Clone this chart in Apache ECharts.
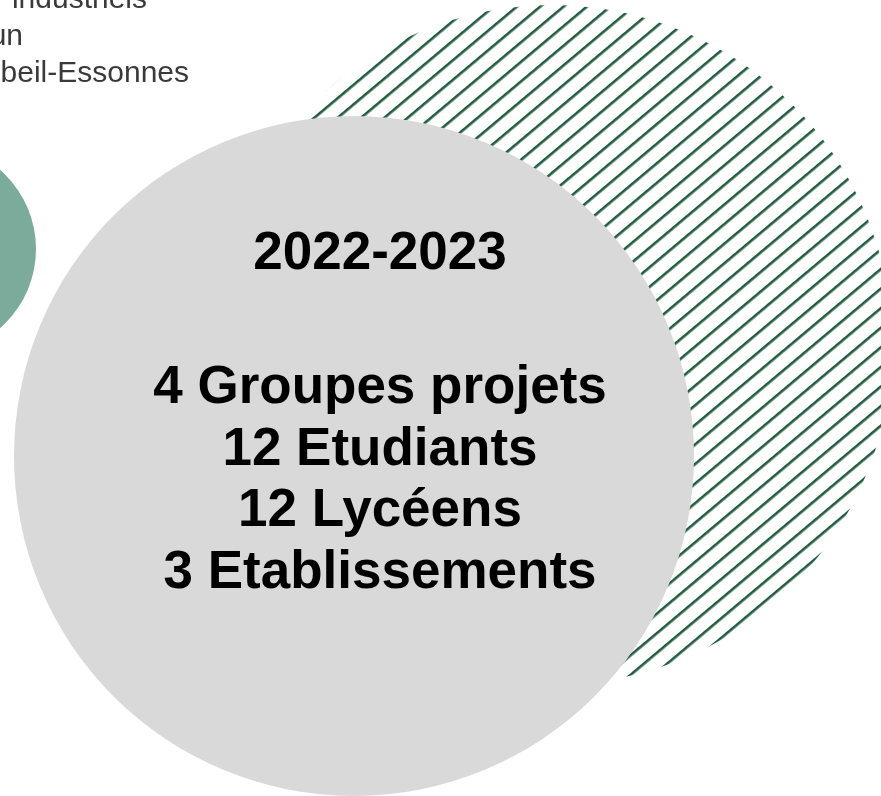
<!DOCTYPE html>
<html>
<head>
<meta charset="utf-8">
<script src="https://cdn.jsdelivr.net/npm/echarts@6/dist/echarts.min.js"></script>
<style>
html,body{margin:0;padding:0;background:#fff;}
#main{width:881px;height:796px;}
</style>
</head>
<body>
<div id="main"></div>
<script>
// ---- content ----
const periodLabel = ['2022-2023'];
const statLines = ['4 Groupes projets', '12 Etudiants', '12 Lycéens', '3 Etablissements'];
const cornerLines = ['industriels', 'un', 'beil-Essonnes'];
const cornerLineEnds = [147, 23, 189];

// hatch tile (horizontal line, rotated via pattern transform)
function makeHatchTile() {
  const c = document.createElement('canvas');
  c.width = 16; c.height = 15;
  const ctx = c.getContext('2d');
  ctx.fillStyle = '#1f5c3e';
  ctx.fillRect(0, 6, 16, 2.6);
  return c;
}

const chart = echarts.init(document.getElementById('main'), null, {renderer: 'canvas'});
const graphics = [];

// hatched circle (back)
graphics.push({
  type: 'circle', z: 1,
  shape: {cx: 552, cy: 345, r: 340},
  style: {fill: {image: makeHatchTile(), repeat: 'repeat', rotation: -40 * Math.PI / 180}}
});
// green circle (left)
graphics.push({
  type: 'circle', z: 2,
  shape: {cx: -69, cy: 249, r: 105},
  style: {fill: '#7aab9b'}
});
// gray circle
graphics.push({
  type: 'circle', z: 3,
  shape: {cx: 354, cy: 456, r: 340},
  style: {fill: '#d9d9d9'}
});

// corner text
const cornerBaselines = [6, 43, 80];
cornerLines.forEach((t, i) => {
  graphics.push({
    type: 'text', z: 5,
    x: cornerLineEnds[i], y: cornerBaselines[i] - 6,
    style: {text: t, x: 0, y: 0, align: 'right', verticalAlign: 'middle',
      font: '30px "Liberation Sans", Arial, sans-serif', fill: '#3a3a3a'}
  });
});

// central text
const bigFont = 'bold 53px "Liberation Sans", Arial, sans-serif';
graphics.push({
  type: 'text', z: 6, x: 380, y: 254,
  style: {text: periodLabel[0], x: 0, y: 0, align: 'center', verticalAlign: 'middle', font: bigFont, fill: '#000'}
});
const statCenters = [388, 450, 511, 573];
statLines.forEach((t, i) => {
  graphics.push({
    type: 'text', z: 6, x: 380, y: statCenters[i],
    style: {text: t, x: 0, y: 0, align: 'center', verticalAlign: 'middle', font: bigFont, fill: '#000'}
  });
});

chart.setOption({
  backgroundColor: '#ffffff',
  animation: false,
  graphic: {elements: graphics}
});
</script>
</body>
</html>
